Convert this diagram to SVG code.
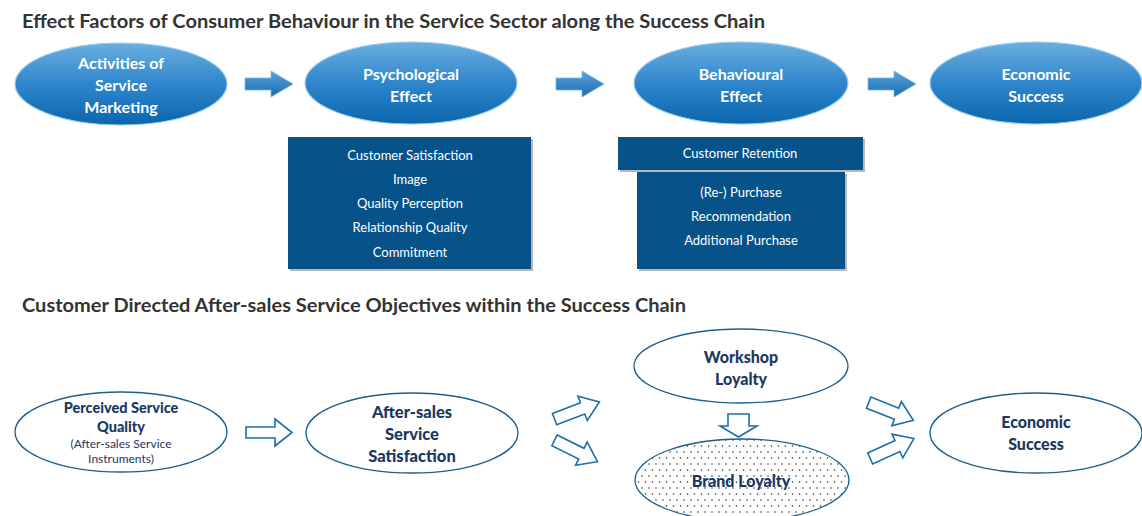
<svg xmlns="http://www.w3.org/2000/svg" width="1142" height="516" viewBox="0 0 1142 516">
<defs>
<linearGradient id="gBlue" x1="0" y1="0" x2="0" y2="1">
<stop offset="0" stop-color="#6aafe0"/>
<stop offset="0.5" stop-color="#2f86cc"/>
<stop offset="1" stop-color="#0b66ad"/>
</linearGradient>
<linearGradient id="gArrow" x1="0" y1="0" x2="0" y2="1">
<stop offset="0" stop-color="#5aa2da"/>
<stop offset="1" stop-color="#1a6cb0"/>
</linearGradient>
<pattern id="dots" width="7" height="12" patternUnits="userSpaceOnUse">
<circle cx="1.5" cy="2" r="0.75" fill="#222"/>
<circle cx="5" cy="8" r="0.75" fill="#222"/>
</pattern>
<path id="hollow" d="M-24,-6 H6 V-13 L24,0 L6,13 V6 H-24 Z"/>
<path id="solid" d="M-24,-6 H2 V-13 L24,0 L2,13 V6 H-24 Z"/>
</defs>
<style>
.title{font-family:Lato,"Open Sans",sans-serif;font-weight:bold;font-size:19px;fill:#333333}
.top{fill:url(#gBlue);stroke:#9ccbec;stroke-width:1.2}
.tt{font-family:Lato,"Open Sans",sans-serif;font-weight:bold;font-size:16px;fill:#ffffff;text-anchor:middle}
.box{fill:#065289}
.shadow{fill:#b9b9b9}
.bt{font-family:Lato,"Open Sans",sans-serif;font-size:13px;fill:#ffffff;text-anchor:middle}
.bot{fill:#ffffff;stroke:#1e5f8e;stroke-width:1.3}
.lt{font-family:Lato,"Open Sans",sans-serif;font-weight:900;font-size:16px;fill:#1c3761;text-anchor:middle}
.ls{font-family:Lato,"Open Sans",sans-serif;font-size:12px;fill:#1c3761;text-anchor:middle}
.sa{fill:url(#gArrow);stroke:#7ab6e2;stroke-width:0.8}
.ha{fill:#ffffff;stroke:#1e6ea8;stroke-width:1.6;stroke-linejoin:miter}
</style>
<rect width="1142" height="516" fill="#ffffff"/>

<text class="title" x="22" y="28" textLength="743" lengthAdjust="spacingAndGlyphs">Effect Factors of Consumer Behaviour in the Service Sector along the Success Chain</text>
<text class="title" x="22" y="312" textLength="664" lengthAdjust="spacingAndGlyphs">Customer Directed After-sales Service Objectives within the Success Chain</text>

<g id="connectors">
<use href="#solid" class="sa" transform="translate(269,84)"/>
<use href="#solid" class="sa" transform="translate(580,84)"/>
<use href="#solid" class="sa" transform="translate(892,84)"/>
<path class="ha" d="M246,427 H275 V419 L292,432.5 L275,446 V438 H246 Z"/>
<use href="#hollow" class="ha" transform="translate(577,410.5) rotate(-21)"/>
<use href="#hollow" class="ha" transform="translate(576,451) rotate(26.5)"/>
<path class="ha" d="M728,414 H749 V426 H757 L738.5,437 L720,426 H728 Z"/>
<use href="#hollow" class="ha" transform="translate(891,411.5) rotate(21.6)"/>
<use href="#hollow" class="ha" transform="translate(892,448.5) rotate(-24.5)"/>
</g>

<g id="activities">
<ellipse class="top" cx="121" cy="84" rx="106" ry="41"/>
<text class="tt" x="121" y="69">Activities of</text>
<text class="tt" x="121" y="91">Service</text>
<text class="tt" x="121" y="113">Marketing</text>
</g>
<g id="psychological">
<ellipse class="top" cx="411" cy="83" rx="106" ry="41"/>
<text class="tt" x="411" y="80">Psychological</text>
<text class="tt" x="411" y="102">Effect</text>
</g>
<g id="behavioural">
<ellipse class="top" cx="741" cy="83" rx="107" ry="41"/>
<text class="tt" x="741" y="80">Behavioural</text>
<text class="tt" x="741" y="102">Effect</text>
</g>
<g id="economic-top">
<ellipse class="top" cx="1036" cy="83" rx="106" ry="41"/>
<text class="tt" x="1036" y="80">Economic</text>
<text class="tt" x="1036" y="102">Success</text>
</g>

<g id="psych-box">
<rect class="shadow" x="290" y="139" width="243" height="132"/>
<rect class="box" x="288" y="137" width="243" height="132"/>
<text class="bt" x="410" y="160">Customer Satisfaction</text>
<text class="bt" x="410" y="184">Image</text>
<text class="bt" x="410" y="208">Quality Perception</text>
<text class="bt" x="410" y="232">Relationship Quality</text>
<text class="bt" x="410" y="257">Commitment</text>
</g>
<g id="retention-box">
<rect class="shadow" x="620" y="139" width="245" height="33"/>
<rect class="box" x="618" y="137" width="245" height="33"/>
<text class="bt" x="740" y="158">Customer Retention</text>
</g>
<g id="behaviour-box">
<rect class="shadow" x="639" y="174" width="208" height="97"/>
<rect class="box" x="637" y="172" width="208" height="97"/>
<text class="bt" x="741" y="197">(Re-) Purchase</text>
<text class="bt" x="741" y="221">Recommendation</text>
<text class="bt" x="741" y="245">Additional Purchase</text>
</g>

<g id="perceived">
<ellipse class="bot" cx="121" cy="432" rx="106" ry="40"/>
<text class="lt" x="121" y="413" style="font-size:14.5px">Perceived Service</text>
<text class="lt" x="121" y="432" style="font-size:14.5px">Quality</text>
<text class="ls" x="121" y="448">(After-sales Service</text>
<text class="ls" x="121" y="463">Instruments)</text>
</g>
<g id="satisfaction">
<ellipse class="bot" cx="412" cy="433" rx="106" ry="40"/>
<text class="lt" x="412" y="418" style="font-size:16.5px">After-sales</text>
<text class="lt" x="412" y="440" style="font-size:16.5px">Service</text>
<text class="lt" x="412" y="462" style="font-size:16.5px">Satisfaction</text>
</g>
<g id="workshop">
<ellipse class="bot" cx="741" cy="366" rx="107" ry="37"/>
<text class="lt" x="741" y="363">Workshop</text>
<text class="lt" x="741" y="385">Loyalty</text>
</g>
<g id="brand">
<ellipse class="bot" cx="742" cy="480" rx="107" ry="41" style="fill:url(#dots)"/>
<text class="lt" x="741" y="487">Brand Loyalty</text>
</g>
<g id="economic-bottom">
<ellipse class="bot" cx="1036" cy="433" rx="106" ry="40"/>
<text class="lt" x="1036" y="428">Economic</text>
<text class="lt" x="1036" y="450">Success</text>
</g>
</svg>
